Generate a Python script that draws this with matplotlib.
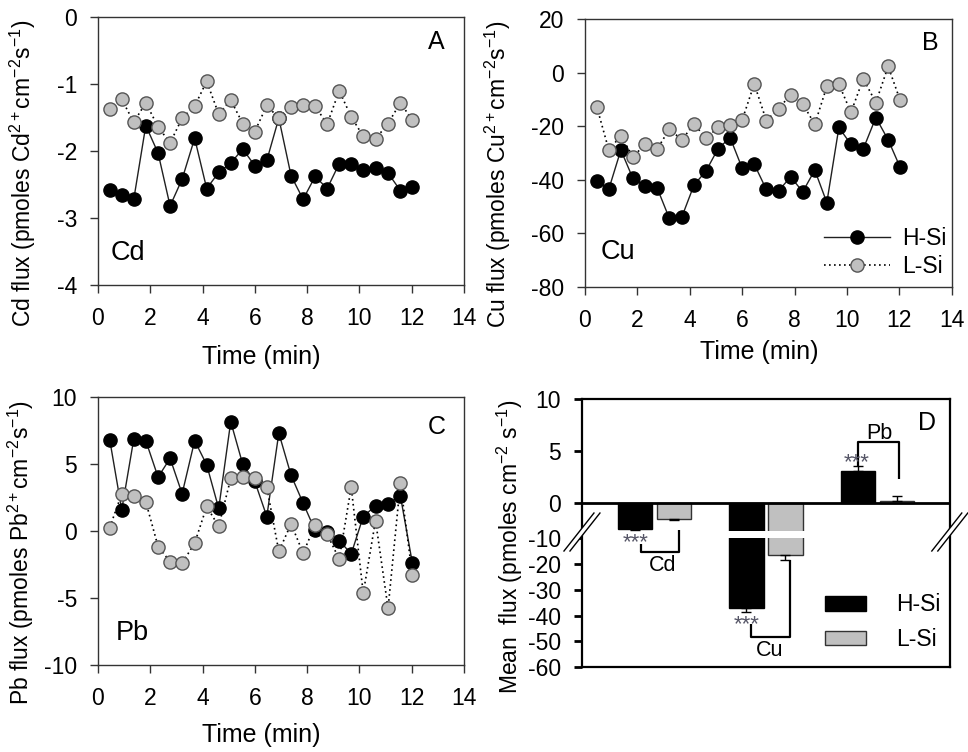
import numpy as np
import matplotlib.pyplot as plt
from matplotlib.patches import Polygon

plt.rcParams['font.family'] = ['Liberation Sans', 'DejaVu Sans']
plt.rcParams['mathtext.fontset'] = 'custom'
plt.rcParams['mathtext.rm'] = 'Liberation Sans'
plt.rcParams['mathtext.it'] = 'Liberation Sans'
plt.rcParams['axes.unicode_minus'] = False

# sampling times (min), shared by all three metals
time_min = [0.45, 0.91, 1.37, 1.83, 2.30, 2.76, 3.22, 3.70, 4.16, 4.62, 5.08, 5.54, 6.00,
            6.46, 6.92, 7.39, 7.85, 8.31, 8.77, 9.23, 9.69, 10.15, 10.62, 11.10, 11.57, 12.03]

cd_hsi = [-2.58, -2.66, -2.72, -1.62, -2.03, -2.82, -2.42, -1.81, -2.56, -2.32, -2.18, -1.97, -2.22,
          -2.14, -1.51, -2.37, -2.72, -2.38, -2.56, -2.19, -2.19, -2.29, -2.26, -2.33, -2.59, -2.54]
cd_lsi = [-1.38, -1.23, -1.57, -1.28, -1.64, -1.88, -1.51, -1.33, -0.96, -1.45, -1.24, -1.59, -1.71,
          -1.32, -1.51, -1.34, -1.31, -1.33, -1.60, -1.10, -1.49, -1.78, -1.82, -1.59, -1.28, -1.54]

cu_hsi = [-40.5, -43.5, -28.9, -39.5, -42.2, -43.2, -54.4, -53.8, -42.0, -36.7, -28.4, -24.3, -35.7,
          -34.2, -43.6, -44.1, -38.9, -44.5, -36.4, -48.5, -20.5, -26.8, -28.5, -16.8, -25.1, -35.4]
cu_lsi = [-12.7, -28.9, -23.6, -31.4, -26.8, -28.5, -21.1, -25.1, -19.2, -24.5, -20.5, -19.5, -17.7,
          -4.2, -17.9, -13.5, -8.2, -11.7, -19.3, -5.2, -4.3, -14.9, -2.3, -11.2, 2.3, -10.4]

pb_hsi = [6.81, 1.58, 6.86, 6.74, 4.02, 5.42, 2.78, 6.74, 4.94, 1.68, 8.16, 4.97, 3.70,
          1.08, 7.31, 4.15, 2.08, 0.04, -0.04, -0.71, -1.71, 1.08, 1.88, 2.03, 2.63, -2.40]
pb_lsi = [0.26, 2.78, 2.63, 2.18, -1.16, -2.28, -2.40, -0.91, 1.83, 0.34, 3.92, 4.02, 3.95,
          3.28, -1.53, 0.54, -1.66, 0.46, -0.24, -2.10, 3.28, -4.65, 0.78, -5.77, 3.57, -3.28]

# panel D: mean flux
metals = ['Cd', 'Cu', 'Pb']
mean_hsi = [-2.43, -37.1, 3.05]
mean_lsi = [-1.5, -16.6, 0.2]
err_hsi = [0.1, 1.6, 0.5]
err_lsi = [0.1, 2.0, 0.5]

TICK_FS = 16.5
LABEL_FS = 16.5
XLABEL_FS = 18

fig = plt.figure(figsize=(9.68, 7.52), dpi=100)


def style_axes(ax, spine_col='#333333', lw=1.0):
    for s in ax.spines.values():
        s.set_color(spine_col)
        s.set_linewidth(lw)
    ax.tick_params(direction='out', length=6, width=lw, color=spine_col,
                   labelsize=TICK_FS, top=False, right=False)
    ax.tick_params(axis='y', pad=9)
    ax.tick_params(axis='x', pad=10)


def flux_panel(rect, h, l, ylim, yticks, letter, metal, ylabel, lab_x, lab_y, xlab_x, xlab_y,
               letter_pos, metal_pos, legend=False):
    ax = fig.add_axes(rect)
    ax.plot(time_min, h, '-', color='#202020', lw=1, marker='o', ms=9.5,
            mfc='black', mec='black', mew=1, label='H-Si', zorder=3)
    ax.plot(time_min, l, linestyle=(0, (1, 2)), color='black', lw=1.2, marker='o', ms=9.5,
            mfc='#c0c0c0', mec='#555555', mew=1, label='L-Si', zorder=4)
    ax.set_xlim(0, 14)
    ax.set_xticks(range(0, 15, 2))
    ax.set_ylim(*ylim)
    ax.set_yticks(yticks)
    style_axes(ax)
    ax.set_ylabel(ylabel, fontsize=LABEL_FS)
    ax.yaxis.set_label_coords(lab_x, lab_y)
    ax.set_xlabel('Time (min)', fontsize=XLABEL_FS)
    ax.xaxis.set_label_coords(xlab_x, xlab_y)
    ax.text(*letter_pos, letter, transform=ax.transAxes, fontsize=18, ha='center', va='center')
    ax.text(*metal_pos, metal, transform=ax.transAxes, fontsize=19.5, ha='center', va='center')
    if legend:
        ax.legend(loc='lower right', bbox_to_anchor=(0.985, 0.035), frameon=False, fontsize=16.5,
                  handlelength=2.9, handletextpad=0.5, labelspacing=0.2, borderpad=0,
                  borderaxespad=0)
    return ax


flux_panel([0.1012, 0.621, 0.378, 0.3564], cd_hsi, cd_lsi, (-4, 0), [0, -1, -2, -3, -4], 'A', 'Cd',
           'Cd flux (pmoles Cd$^{2+}$cm$^{-2}$s$^{-1}$)', -0.163, 0.415, 0.447, -0.222,
           (0.925, 0.908), (0.083, 0.118))
flux_panel([0.6043, 0.6184, 0.379, 0.3564], cu_hsi, cu_lsi, (-80, 20), [20, 0, -20, -40, -60, -80],
           'B', 'Cu', 'Cu flux (pmoles Cu$^{2+}$cm$^{-2}$s$^{-1}$)', -0.197, 0.42, 0.474, -0.197,
           (0.94, 0.909), (0.091, 0.132), legend=True)
flux_panel([0.1012, 0.1157, 0.378, 0.3564], pb_hsi, pb_lsi, (-10, 10), [10, 5, 0, -5, -10], 'C', 'Pb',
           'Pb flux (pmoles Pb$^{2+}$cm$^{-2}$s$^{-1}$)', -0.17, 0.42, 0.447, -0.215,
           (0.925, 0.889), (0.095, 0.118))

# ---- panel D: broken y axis done with a piecewise scale ----
BRK_Y = [-1000, -60, -10, -2.62, 10, 1000]
BRK_U = [-247.7, -15.70, -3.36, -2.62, 10, 1000]


def fwd(y):
    return np.interp(y, BRK_Y, BRK_U)


def inv(u):
    return np.interp(u, BRK_U, BRK_Y)


axd = fig.add_axes([0.6012, 0.113, 0.380, 0.3564])
axd.set_yscale('function', functions=(fwd, inv))
x = np.arange(1, len(metals) + 1)
w = 0.31
off = 0.175
axd.bar(x - off, mean_hsi, w, color='black', edgecolor='black', lw=1, label='H-Si', zorder=2)
axd.bar(x + off, mean_lsi, w, color='#c0c0c0', edgecolor='#333333', lw=1, label='L-Si', zorder=2)
for xs, m, e in ((x - off, mean_hsi, err_hsi), (x + off, mean_lsi, err_lsi)):
    lo = [ei if mi < 0 else 0 for mi, ei in zip(m, e)]
    hi = [ei if mi > 0 else 0 for mi, ei in zip(m, e)]
    axd.errorbar(xs, m, yerr=[lo, hi], fmt='none', ecolor='black', elinewidth=1, capsize=3.6,
                 capthick=1, zorder=3)
# white gap where the axis is broken
axd.axhspan(-10, -2.62, color='white', lw=0, zorder=2.2)
axd.axhline(0, color='black', lw=2, zorder=3)
axd.set_xlim(0.35, 3.65)
axd.set_ylim(-60, 10)
axd.set_yticks([10, 5, 0, -10, -20, -30, -40, -50, -60])
axd.set_xticks([])
style_axes(axd, spine_col='black', lw=1.6)
axd.tick_params(axis='y', width=2)
axd.set_ylabel('Mean  flux (pmoles cm$^{-2}$ s$^{-1}$)', fontsize=LABEL_FS)
axd.yaxis.set_label_coords(-0.155, 0.448)
axd.text(0.937, 0.909, 'D', transform=axd.transAxes, fontsize=18, ha='center', va='center')

# significance brackets
bk = dict(color='black', lw=1.6, zorder=4, solid_capstyle='butt')
axd.plot([1 - 0.121, 1 - 0.121, 1 + 0.22, 1 + 0.22], [-12.1, -15.5, -15.5, -2.55], **bk)
axd.plot([2 - 0.135, 2 - 0.135, 2 + 0.217, 2 + 0.217], [-43.3, -48.3, -48.3, -18.6], **bk)
axd.plot([3 - 0.178, 3 - 0.178, 3 + 0.196, 3 + 0.196], [3.55, 5.87, 5.87, 2.35], **bk)
star = dict(fontsize=16, color='#555566', ha='center', va='center', zorder=5)
axd.text(1 - 0.17, -11.6, '***', **star)
axd.text(2 - 0.173, -43.6, '***', **star)
axd.text(3 - 0.19, 3.85, '***', **star)
lab = dict(fontsize=15.5, ha='center', va='center', zorder=5)
axd.text(1 + 0.076, -20.6, 'Cd', **lab)
axd.text(2 + 0.03, -53.5, 'Cu', **lab)
axd.text(3 + 0.02, 6.67, 'Pb', **lab)

axd.legend(loc='lower right', bbox_to_anchor=(0.975, 0.06), frameon=False, fontsize=16.5,
           handlelength=1.8, handleheight=0.6, handletextpad=1.3, labelspacing=0.5,
           borderpad=0, borderaxespad=0)

# break marks on both vertical spines
yb = (667 - 532) / 268.0
for xc in (0.0, 1.0):
    dx, dy, sep = 15 / 368.0, 19 / 268.0, 6 / 368.0
    axd.add_patch(Polygon([(xc - dx - sep / 2, yb - dy), (xc + dx - sep / 2, yb + dy),
                           (xc + dx + sep / 2, yb + dy), (xc - dx + sep / 2, yb - dy)],
                          closed=True, transform=axd.transAxes, facecolor='white',
                          edgecolor='none', clip_on=False, zorder=6))
    for s in (-sep / 2, sep / 2):
        axd.plot([xc - dx + s, xc + dx + s], [yb - dy, yb + dy], color='black', lw=1,
                 transform=axd.transAxes, clip_on=False, zorder=7)

fig.savefig('out.png', dpi=100)
